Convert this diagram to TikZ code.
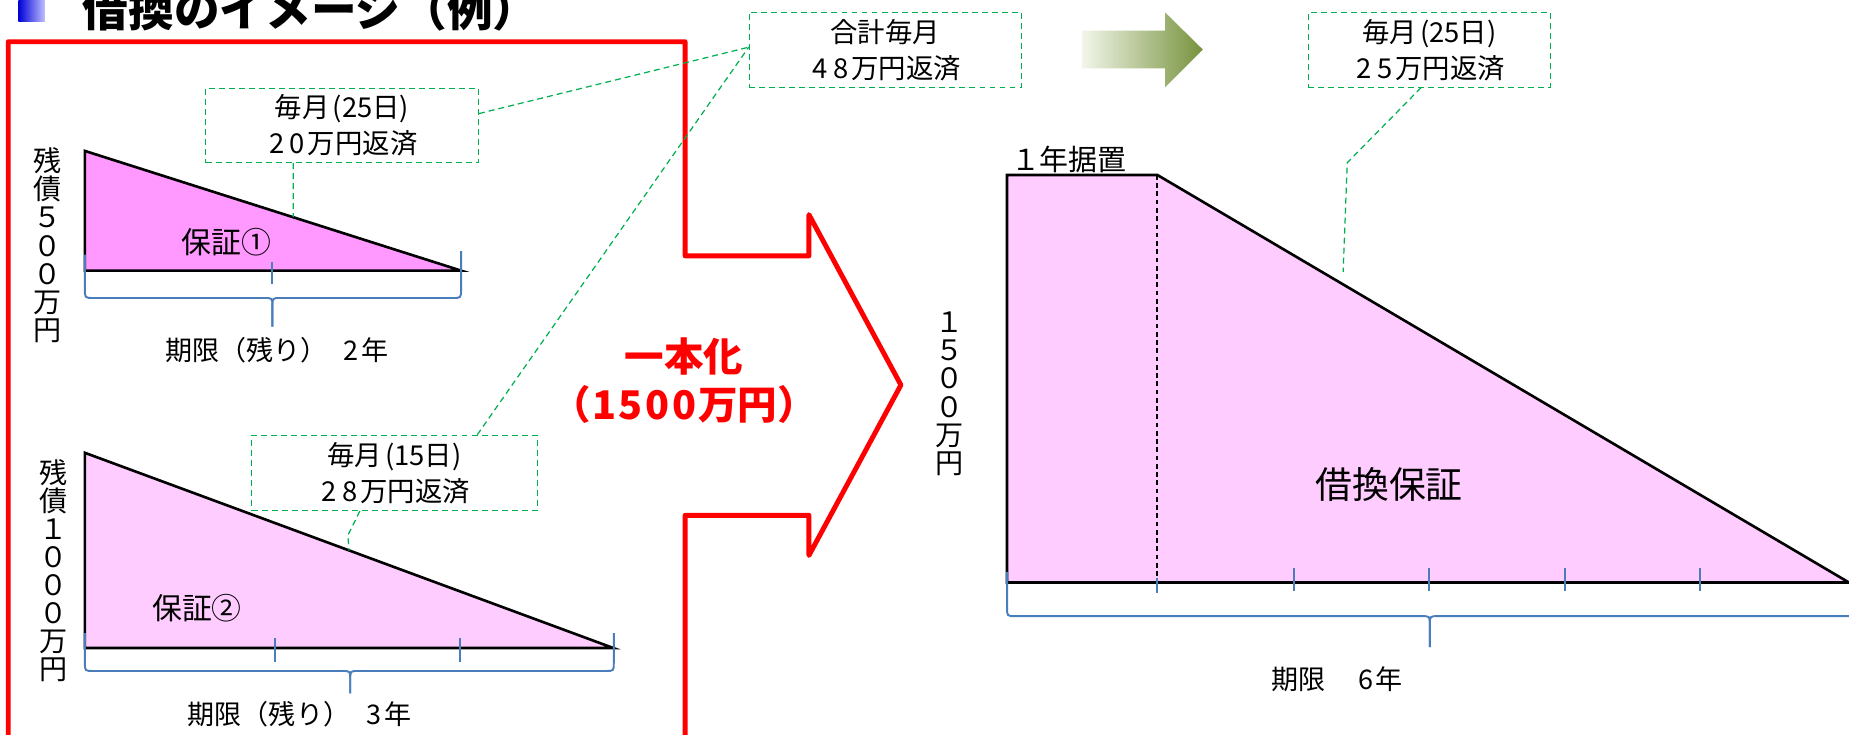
\documentclass[tikz,border=0pt]{standalone}
\usepackage{fontspec}
\setmainfont{Noto Sans CJK JP}
\newcommand{\myfs}[2]{\fontsize{#1}{#2}\selectfont}
\newcommand{\wdig}[1]{\makebox[0.76em]{#1}}
\newcommand{\rdig}[1]{\makebox[0.68em]{#1}}
\setlength{\lineskiplimit}{-20pt}
\definecolor{pinkA}{HTML}{FF99FF}
\definecolor{pinkB}{HTML}{FFCCFF}
\definecolor{bracec}{RGB}{74,126,187}
\definecolor{leadc}{RGB}{0,176,80}
\definecolor{redc}{HTML}{FF0000}
\definecolor{grnL}{HTML}{F2F6EA}
\definecolor{grnM}{HTML}{9BBB59}
\definecolor{grnD}{HTML}{76923C}
\begin{document}
\begin{tikzpicture}[x=0.0236cm,y=-0.0236cm,
  shapeline/.style={draw=black,line width=1.5pt,line join=miter},
  bline/.style={draw=bracec,line width=1.1pt},
  leader/.style={draw=leadc,line width=0.7pt,dash pattern=on 3.4pt off 2.3pt},
  callout/.style={draw=leadc,line width=0.7pt,dash pattern=on 3.4pt off 2.3pt,
    align=center,inner sep=0pt,font=\myfs{15.6}{20.5}},
  lbl/.style={inner sep=0pt,font=\myfs{15.4}{18}},
  vlbl/.style={inner sep=0pt,align=center,font=\myfs{16}{16}},
  redtxt/.style={inner sep=0pt,text=redc,font=\bfseries\myfs{22.5}{26}},
  redline/.style={draw=redc,line width=2.8pt,line join=round}]
\useasboundingbox (0,0) rectangle (1568,623);

% title
\shade[left color=blue!85!black,right color=blue!25!white] (15.5,-2) rectangle (38,18);
\node[anchor=west,inner sep=0pt,font=\bfseries\myfs{26}{29}] (title) at (70,8) {借換のイメージ（例）};

% red outline arrow
\draw[redline] (7,630) -- (7,35.4) -- (581,35.4) -- (581,217) -- (686,217) -- (686,182)
  -- (764,326.5) -- (686,471) -- (686,437) -- (581,437) -- (581,630);
\node[redtxt] (ichi) at (580,302) {一本化};
\node[redtxt] (amt) at (580,343) {（\rdig{1}\rdig{5}\rdig{0}\rdig{0}万円）};

% green arrow
\shade[left color=grnL,middle color=grnM,right color=grnD]
  (917.5,26) -- (988,26) -- (988,10.5) -- (1020,42) -- (988,74) -- (988,58) -- (917.5,58) -- cycle;

% triangle 1
\filldraw[fill=pinkA,shapeline] (72,128) -- (72,229.5) -- (391,229.5) -- cycle;
\draw[bline] (231,222) -- (231,241);
\draw[bline] (72,216) -- (72,245) .. controls (72,252.7) .. (79,252.7) -- (224,252.7)
  .. controls (231,252.7) .. (231,260) -- (231,277);
\draw[bline] (231,277) -- (231,260) .. controls (231,252.7) .. (238,252.7) -- (384,252.7)
  .. controls (391,252.7) .. (391,245) -- (391,213);
\node[lbl] (per1) at (235,297) {期限（残り）\hspace{0.5em}\wdig{2}年};
\node[vlbl] (v1) at (40,208) {残\\債\\５\\０\\０\\万\\円};
\node[inner sep=0pt,font=\myfs{17}{19}] (g1) at (192,205) {保証①};

% triangle 2
\filldraw[fill=pinkB,shapeline] (72,384) -- (72,549.5) -- (520,549.5) -- cycle;
\draw[bline] (233,541) -- (233,561);
\draw[bline] (390,541) -- (390,561);
\draw[bline] (72,537) -- (72,562) .. controls (72,569) .. (79,569) -- (290,569)
  .. controls (297,569) .. (297,576) -- (297,588);
\draw[bline] (297,588) -- (297,576) .. controls (297,569) .. (304,569) -- (513.5,569)
  .. controls (520.5,569) .. (520.5,562) -- (520.5,537);
\node[lbl] (per2) at (254,606) {期限（残り）\hspace{0.5em}\wdig{3}年};
\node[vlbl] (v2) at (45,484) {残\\債\\１\\０\\０\\０\\万\\円};
\node[inner sep=0pt,font=\myfs{17}{19}] (g2) at (167,516) {保証②};

% right shape
\filldraw[fill=pinkB,shapeline] (854,148.4) -- (981.5,148.4) -- (1568,494) -- (854,494) -- cycle;
\draw[black,line width=1.1pt,dash pattern=on 2.7pt off 2pt] (981.5,148.4) -- (981.5,494);
\foreach \tx in {1097,1212,1327,1442} \draw[bline] (\tx,482) -- (\tx,501);
\draw[bline] (981.5,490) -- (981.5,503);
\draw[bline] (854,485) -- (854,515) .. controls (854,522.5) .. (861,522.5) -- (1205.5,522.5)
  .. controls (1212.5,522.5) .. (1212.5,530) -- (1212.5,548.7);
\draw[bline] (1212.5,548.7) -- (1212.5,530) .. controls (1212.5,522.5) .. (1219.5,522.5) -- (1580,522.5);
\node[lbl] (per3) at (1134,576) {期限\hspace{1.1em}\wdig{6}年};
\node[vlbl] (v3) at (805,334) {１\\５\\０\\０\\万\\円};
\node[inner sep=0pt,font=\myfs{21}{24}] (g3) at (1178,411) {借換保証};
\node[inner sep=0pt,font=\myfs{16.5}{18}] (sue) at (906.5,135) {１年据置};

% callouts
\node[callout,minimum width=155.3pt,minimum height=42.4pt] (boxA) at (290,106.3) {毎月\hspace{0.12em}(25日)\\\wdig{2}\wdig{0}万円返済};
\node[callout,minimum width=154.9pt,minimum height=42.5pt] (boxS) at (750.75,42.25) {合計毎月\\\wdig{4}\wdig{8}万円返済};
\node[callout,minimum width=162.6pt,minimum height=42.8pt] (boxB) at (334.5,401) {毎月\hspace{0.12em}(15日)\\\wdig{2}\wdig{8}万円返済};
\node[callout,minimum width=137.9pt,minimum height=42.5pt] (boxC) at (1212,42.25) {毎月\hspace{0.12em}(25日)\\\wdig{2}\wdig{5}万円返済};

\coordinate (t1lead) at (248.6,184);
\coordinate (bBend) at (295,454);
\coordinate (t2lead) at (296,467);
\coordinate (cBend) at (1142.5,138);
\coordinate (rlead) at (1139,230.5);

\draw[leader] ([xshift=-27.8pt]boxA.south) -- (t1lead);
\draw[leader] ([yshift=6.7pt]boxA.east) -- ([yshift=1.5pt]boxS.west);
\draw[leader] ([xshift=47.2pt]boxB.north) -- ([yshift=1.5pt]boxS.west);
\draw[leader] ([xshift=-19.7pt]boxB.south) -- (bBend) -- (t2lead);
\draw[leader] ([xshift=-4.7pt]boxC.south) -- (cBend) -- (rlead);
\end{tikzpicture}
\end{document}
